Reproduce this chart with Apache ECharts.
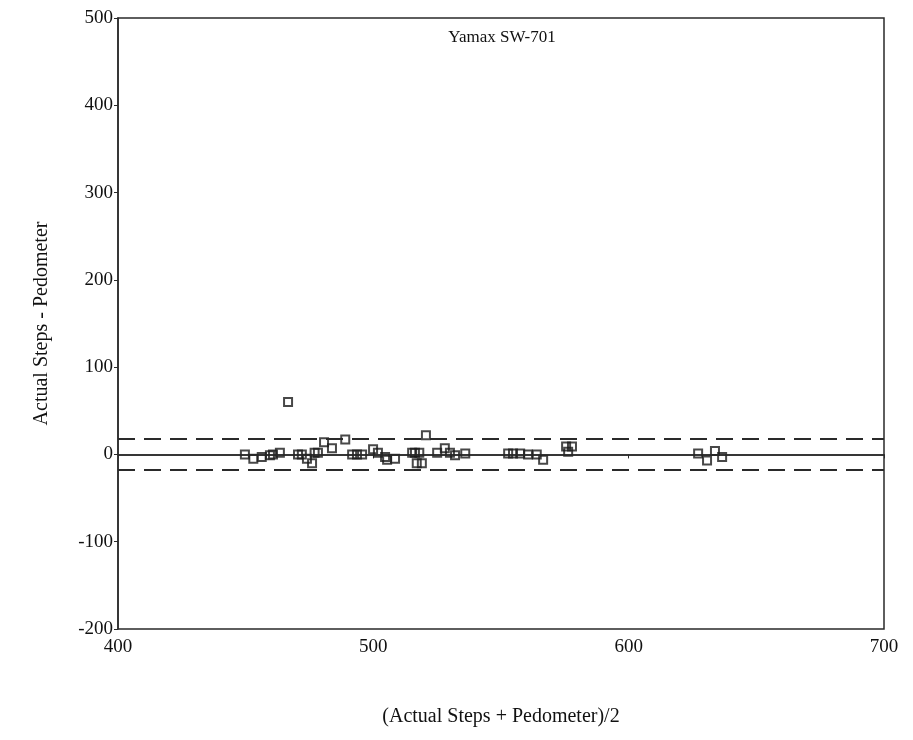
<!DOCTYPE html>
<html>
<head>
<meta charset="utf-8">
<script src="https://cdn.jsdelivr.net/npm/echarts@6/dist/echarts.min.js"></script>
<style>
  html, body { margin: 0; padding: 0; background: #fff; }
  #chart { width: 913px; height: 740px; }
</style>
</head>
<body>
<div id="chart"></div>
<script>
// mean of actual and pedometer steps
var meanSteps = [
  449.7, 453, 456.3, 459.5, 460.7, 463.4, 466.6, 470.5, 472, 474, 476, 477, 478.3,
  480.7, 483.8, 489, 491.7, 493.6, 495.6, 499.9, 501.8, 504.6, 505.4, 508.5,
  515.2, 516.3, 517, 519, 518, 520.6, 525, 528, 530, 532, 536,
  552.8, 554.7, 557.5, 560.6, 564, 566.5, 575.5, 576.3, 577.8,
  627.2, 630.7, 633.8, 636.6
];
// actual steps minus pedometer
var diffSteps = [
  0, -5, -3, -1, 0, 2, 60, 0, 0, -5, -10, 2, 2,
  14, 7, 17, 0, 0, 0, 6, 2, -3, -6, -5,
  2, 2, -10, -10, 2, 22, 2, 7, 2, -1, 1,
  1, 1, 1, 0, 0, -6, 9, 3, 9,
  1, -7, 4, -3
];
var meanLine = 0;
var upperLimit = 18;
var lowerLimit = -17;
var titleText = 'Yamax SW-701';

var points = meanSteps.map(function (x, i) { return [x, diffSteps[i]]; });

var fontFam = '"Liberation Serif", "DejaVu Serif", serif';
var ink = '#2a2a2a';

var chart = echarts.init(document.getElementById('chart'));
chart.setOption({
  animation: false,
  title: {
    text: titleText,
    left: 497,
    top: 24,
    textAlign: 'center',
    textStyle: { fontFamily: fontFam, fontSize: 17, fontWeight: 'normal', color: '#111' }
  },
  grid: {
    left: 118, right: 29, top: 18, bottom: 111,
    show: true, borderColor: ink, borderWidth: 1.5, backgroundColor: 'transparent'
  },
  xAxis: {
    type: 'value', min: 400, max: 700, interval: 100,
    name: '(Actual Steps + Pedometer)/2',
    nameLocation: 'middle', nameGap: 78,
    nameTextStyle: { fontFamily: fontFam, fontSize: 20, color: '#111' },
    axisLine: { show: true, lineStyle: { color: ink, width: 1.5 } },
    axisTick: { show: true, length: 4, lineStyle: { color: ink } },
    axisLabel: { fontFamily: fontFam, fontSize: 19, color: '#111', margin: 9 },
    splitLine: { show: false }
  },
  yAxis: {
    type: 'value', min: -200, max: 500, interval: 100,
    name: 'Actual Steps - Pedometer',
    nameLocation: 'middle', nameGap: 66, nameRotate: 90,
    nameTextStyle: { fontFamily: fontFam, fontSize: 20, color: '#111' },
    axisLine: { show: true, lineStyle: { color: ink, width: 1.5 } },
    axisTick: { show: true, length: 4, lineStyle: { color: ink } },
    axisLabel: { fontFamily: fontFam, fontSize: 19, color: '#111', margin: 5 },
    splitLine: { show: false }
  },
  series: [{
    type: 'scatter',
    data: points,
    symbol: 'rect',
    symbolSize: 8,
    itemStyle: { color: 'rgba(0,0,0,0)', borderColor: '#1a1a1a', borderWidth: 2 },
    markLine: {
      silent: true,
      symbol: 'none',
      label: { show: false },
      data: [
        { yAxis: meanLine, lineStyle: { type: 'solid', color: ink, width: 1.5 } },
        { yAxis: upperLimit, lineStyle: { type: [17, 9], color: ink, width: 2 } },
        { yAxis: lowerLimit, lineStyle: { type: [17, 9], color: ink, width: 2 } }
      ]
    },
    z: 3
  }]
});
</script>
</body>
</html>
